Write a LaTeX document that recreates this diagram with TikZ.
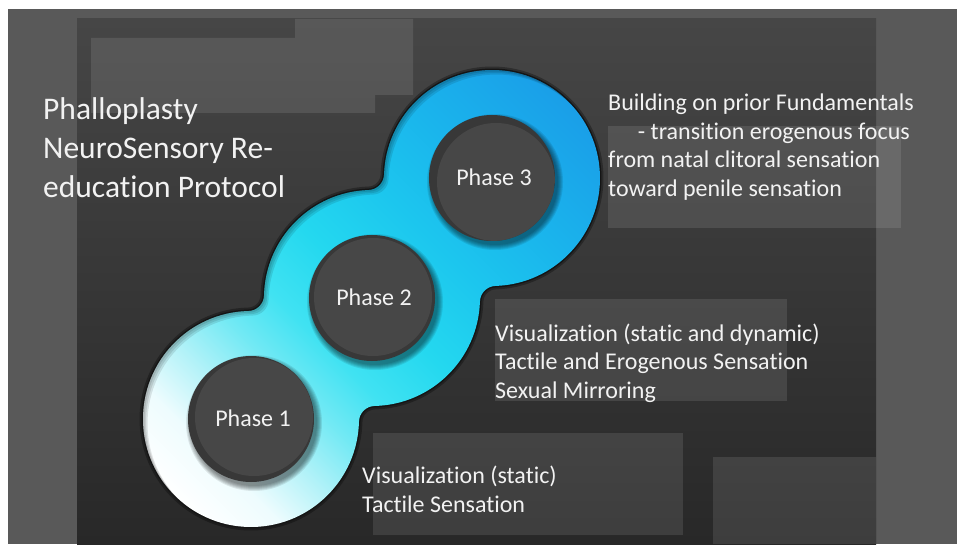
\documentclass[tikz,border=0pt]{standalone}
\usepackage{fontspec}
\setmainfont{Carlito}[Ligatures=CommonOff]
\usetikzlibrary{calc}

\definecolor{slate}{HTML}{595959}
\definecolor{paneltop}{HTML}{464646}
\definecolor{panelbot}{HTML}{282828}
\definecolor{discface}{HTML}{474747}
\definecolor{discrim}{HTML}{383838}
\definecolor{inktext}{HTML}{F2F2F2}
\definecolor{ringline}{HTML}{151515}
\definecolor{rg0}{HTML}{FFFFFF}
\definecolor{rg1}{HTML}{EEFCFE}
\definecolor{rg2}{HTML}{B2F2F8}
\definecolor{rg3}{HTML}{72E9F4}
\definecolor{rg4}{HTML}{40E2F2}
\definecolor{rg5}{HTML}{24D8EF}
\definecolor{rg6}{HTML}{1CC6EE}
\definecolor{rg7}{HTML}{1AB4EC}
\definecolor{rg8}{HTML}{1A9EE8}

% white -> cyan -> blue along the chain of rings (25bp..75bp spans the path)
\pgfdeclarehorizontalshading{ringgrad}{100bp}{%
  color(0bp)=(rg0); color(25bp)=(rg0); color(30bp)=(rg1); color(34.75bp)=(rg2);
  color(39.5bp)=(rg3); color(44bp)=(rg4); color(50bp)=(rg5); color(57.5bp)=(rg6);
  color(65bp)=(rg7); color(75bp)=(rg8); color(100bp)=(rg8)}

% outline of the three merged rings, with rounded (r = 16) joins
\newcommand\ringoutline{($(c1)+(91.37:108)$)
  arc[start angle=91.37, end angle=358.63, radius=108]
  arc[start angle=178.63, end angle=91.37, radius=16]
  arc[start angle=271.37, end angle=358.18, radius=108]
  arc[start angle=178.18, end angle=91.82, radius=16]
  arc[start angle=271.82, end angle=538.18, radius=108]
  arc[start angle=-1.82, end angle=-88.18, radius=16]
  arc[start angle=91.82, end angle=178.63, radius=108]
  arc[start angle=-1.37, end angle=-88.63, radius=16] -- cycle}

\newcommand\ringfill{%
  \shade[shading=ringgrad, transform canvas={rotate around={45:(c2)}}]
    ($(c2)+(-280,-300)$) rectangle ($(c2)+(280,300)$);}

\newcommand\phasebutton[4]{% centre, face offset, label, node name
  \foreach \k in {0,...,5}
    \fill[black, opacity=0.09] ($(#1)+(3,-4)$) circle[radius={63+\k}];
  \fill[discrim] (#1) circle[radius=63];
  \begin{scope}
    \clip (#1) circle[radius=63];
    \fill[discface] ($(#1)+(#2)$) circle[radius=59];
  \end{scope}
  \node[phaselabel] (#4) at ($(#1)+(2,-7.5)$) {#3};}

\begin{document}
\begin{tikzpicture}[x=1pt, y=1pt,
  sidetext/.style={text=inktext, inner sep=0pt, font=\fontsize{24}{29}\selectfont},
  titletext/.style={text=inktext, inner sep=0pt, font=\fontsize{31.5}{39}\selectfont},
  phaselabel/.style={text=inktext, inner sep=0pt, anchor=base, font=\fontsize{24}{29}\selectfont},
  ringedge/.style={draw=ringline, line width=3pt},
  ringglow/.style={draw=black, opacity=0.3, line width=7pt},
  veil/.style={fill=white, fill opacity=0.1}]

\useasboundingbox (0,0) rectangle (957,544);

% backdrop
\fill[white] (0,0) rectangle (957,544);
\fill[slate] (8,0) rectangle (957,535);
\shade[top color=paneltop, bottom color=panelbot] (77,0) rectangle (876,525);

% translucent panels
\fill[veil] (91,431) rectangle (375,506) (295,449) rectangle (413,525);
\fill[veil] (608,316) rectangle (901,418);
\fill[veil] (495,143) rectangle (787,245);
\fill[veil] (373,9) rectangle (683,111);
\fill[veil] (713,0) rectangle (876,87);

% ring centres
\coordinate (c1) at (251,125);
\coordinate (c2) at (372,246);
\coordinate (c3) at (492,366);

% dark rim, gradient body and inner shadow of the rings
\draw[ringglow] \ringoutline;
\draw[ringedge] \ringoutline;
\begin{scope}
  \clip \ringoutline;
  \ringfill
  \foreach \s in {1.5,3,4.5}
    \fill[black, opacity=0.1, even odd rule, transform canvas={shift={(\s,-\s)}}]
      (-100,-100) rectangle (1100,700) \ringoutline;
\end{scope}

% phase buttons
\phasebutton{c1}{3,2}{Phase 1}{ph1}
\phasebutton{c2}{1,1}{Phase 2}{ph2}
\phasebutton{c3}{4,-4}{Phase 3}{ph3}

% title
\node[titletext, anchor=base west] (title1) at (43,424) {Phalloplasty};
\node[titletext, anchor=base west] (title2) at (43,385) {NeuroSensory Re-};
\node[titletext, anchor=base west] (title3) at (43,346) {education Protocol};

% phase 3 notes
\node[sidetext, anchor=base west] (n3a) at (608,433) {Building on prior Fundamentals};
\node[sidetext, anchor=base east] (n3b) at (910,404) {- transition erogenous focus};
\node[sidetext, anchor=base west] (n3c) at (608,376) {from natal clitoral sensation};
\node[sidetext, anchor=base west] (n3d) at (608,347) {toward penile sensation};

% phase 2 notes
\node[sidetext, anchor=base west] (n2a) at (495,203) {Visualization (static and dynamic)};
\node[sidetext, anchor=base west] (n2b) at (495,175) {Tactile and Erogenous Sensation};
\node[sidetext, anchor=base west] (n2c) at (495,146) {Sexual Mirroring};

% phase 1 notes
\node[sidetext, anchor=base west] (n1a) at (362,61) {Visualization (static)};
\node[sidetext, anchor=base west] (n1b) at (362,32) {Tactile Sensation};

\end{tikzpicture}
\end{document}
